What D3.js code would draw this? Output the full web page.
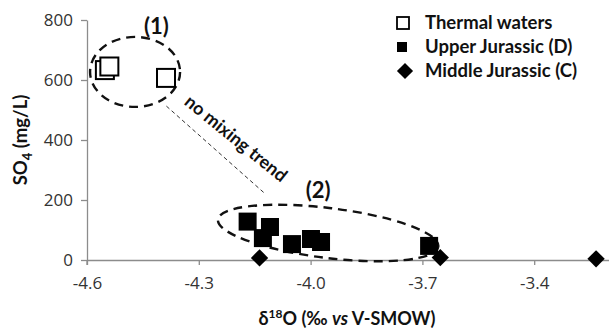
<!DOCTYPE html>
<html><head><meta charset="utf-8">
<script src="https://cdn.jsdelivr.net/npm/d3@7"></script>
<style>
html,body{margin:0;padding:0;background:#fff;}
svg{display:block;}
text{font-family:"Lato","Open Sans",sans-serif;}
</style></head>
<body>
<svg id="chart" width="609" height="330"></svg>
<script>
// ---- data ----
const thermalX = [-4.552, -4.540, -4.388];
const thermalY = [633, 645, 607];
const upperX = [-4.169, -4.109, -4.128, -4.050, -3.999, -3.972, -3.682];
const upperY = [128, 110, 73, 53, 70, 60, 47];
const middleX = [-4.137, -3.652, -3.234];
const middleY = [7, 8, 4];
const xTicks = [-4.6, -4.3, -4.0, -3.7, -3.4];
const yTicks = [0, 200, 400, 600, 800];
const legendLabels = ["Thermal waters", "Upper Jurassic (D)", "Middle Jurassic (C)"];

const svg = d3.select("#chart");
const x = d3.scaleLinear().domain([-4.6, -3.1]).range([87, 646]);
const y = d3.scaleLinear().domain([0, 800]).range([260, 20]);

// axes
const axisColor = "#8c8c8c";
const gx = svg.append("g").attr("transform", `translate(0,${y(0)})`)
  .call(d3.axisBottom(x).tickValues(xTicks).tickSize(5).tickSizeOuter(0).tickPadding(12)
    .tickFormat(d => d.toFixed(1)));
const gy = svg.append("g").attr("transform", `translate(${x(-4.6)},0)`)
  .call(d3.axisLeft(y).tickValues(yTicks).tickSize(6).tickSizeOuter(0).tickPadding(8));
[gx, gy].forEach(g => {
  g.select(".domain").attr("stroke", axisColor).attr("stroke-width", 1.3);
  g.selectAll(".tick line").attr("stroke", axisColor).attr("stroke-width", 1.3);
  g.selectAll(".tick text").attr("fill", "#333").style("font-size", "17px")
    .style("font-family", "'Open Sans',sans-serif");
});
gx.selectAll(".tick text").attr("dy", "0.71em");
gy.append("line").attr("x1", 0).attr("x2", 0).attr("y1", y(0)).attr("y2", y(0) + 5)
  .attr("stroke", axisColor).attr("stroke-width", 1.3);

// annotations: ellipses, dashed line, labels
const ann = svg.append("g");
ann.append("ellipse").attr("cx", x(-4.471)).attr("cy", y(627)).attr("rx", 45).attr("ry", 35)
  .attr("fill", "none").attr("stroke", "#111").attr("stroke-width", 2.4).attr("stroke-dasharray", "9,6");
ann.append("ellipse").attr("cx", 0).attr("cy", 0).attr("rx", 111).attr("ry", 25)
  .attr("transform", `translate(${x(-3.953)},${y(90)}) rotate(7)`)
  .attr("fill", "none").attr("stroke", "#111").attr("stroke-width", 2.4).attr("stroke-dasharray", "9,6");
ann.append("line")
  .attr("x1", x(-4.387)).attr("y1", y(513)).attr("x2", x(-4.124)).attr("y2", y(223))
  .attr("stroke", "#333").attr("stroke-width", 1).attr("stroke-dasharray", "4,3");
ann.append("text").attr("transform", `translate(${x(-4.2)},${y(405)}) rotate(39)`)
  .attr("text-anchor", "middle").attr("dy", "0.35em")
  .style("font-size", "18px").style("font-weight", "bold")
  .attr("fill", "#111").text("no mixing trend");
ann.append("text").attr("x", x(-4.414)).attr("y", y(753)).attr("text-anchor", "middle")
  .style("font-size", "22px").style("font-weight", "bold").attr("fill", "#111").text("(1)");
ann.append("text").attr("x", x(-3.98)).attr("y", y(207)).attr("text-anchor", "middle")
  .style("font-size", "22px").style("font-weight", "bold").attr("fill", "#111").text("(2)");

// points
const thermal = thermalX.map((v, i) => ({x: v, y: thermalY[i]}));
const upper = upperX.map((v, i) => ({x: v, y: upperY[i]}));
const middle = middleX.map((v, i) => ({x: v, y: middleY[i]}));

svg.append("g").selectAll("rect").data(thermal).join("rect")
  .attr("x", d => x(d.x) - 9).attr("y", d => y(d.y) - 9).attr("width", 18).attr("height", 18)
  .attr("fill", "#fff").attr("stroke", "#000").attr("stroke-width", 2);
svg.append("g").selectAll("rect").data(upper).join("rect")
  .attr("x", d => x(d.x) - 9).attr("y", d => y(d.y) - 9).attr("width", 18).attr("height", 18)
  .attr("fill", "#000");
svg.append("g").selectAll("path").data(middle).join("path")
  .attr("transform", d => `translate(${x(d.x)},${y(d.y)}) rotate(45)`)
  .attr("d", d3.symbol().type(d3.symbolSquare).size(150)).attr("fill", "#000");

// legend
const lg = svg.append("g");
const rowY = [23, 47, 71];
lg.append("rect").attr("x", 397).attr("y", rowY[0] - 6).attr("width", 12).attr("height", 12)
  .attr("fill", "#fff").attr("stroke", "#000").attr("stroke-width", 1.8);
lg.append("rect").attr("x", 397).attr("y", rowY[1] - 5).attr("width", 10).attr("height", 10)
  .attr("fill", "#000");
lg.append("path").attr("transform", `translate(405,${rowY[2]}) rotate(45)`)
  .attr("d", d3.symbol().type(d3.symbolSquare).size(130)).attr("fill", "#000");
lg.selectAll("text").data(legendLabels).join("text")
  .attr("x", 425).attr("y", (d, i) => rowY[i]).attr("dy", "0.35em")
  .style("font-size", "18.5px").style("font-weight", "bold").attr("fill", "#111").text(d => d);

// axis titles
const yt = svg.append("text").attr("transform", `translate(27,140) rotate(-90)`)
  .attr("text-anchor", "middle").style("font-size", "18.5px").style("font-weight", "bold").attr("fill", "#111");
yt.append("tspan").text("SO");
yt.append("tspan").attr("dy", 5).style("font-size", "13px").text("4");
yt.append("tspan").attr("dy", -5).text(" (mg/L)");

const xt = svg.append("text").attr("x", 347).attr("y", 325)
  .attr("text-anchor", "middle").style("font-size", "18px").style("font-weight", "bold").attr("fill", "#111");
xt.append("tspan").text("δ");
xt.append("tspan").attr("dy", -7).style("font-size", "12px").text("18");
xt.append("tspan").attr("dy", 7).text("O (‰ ");
xt.append("tspan").style("font-style", "italic").text("vs");
xt.append("tspan").text(" V-SMOW)");
</script>
</body></html>
